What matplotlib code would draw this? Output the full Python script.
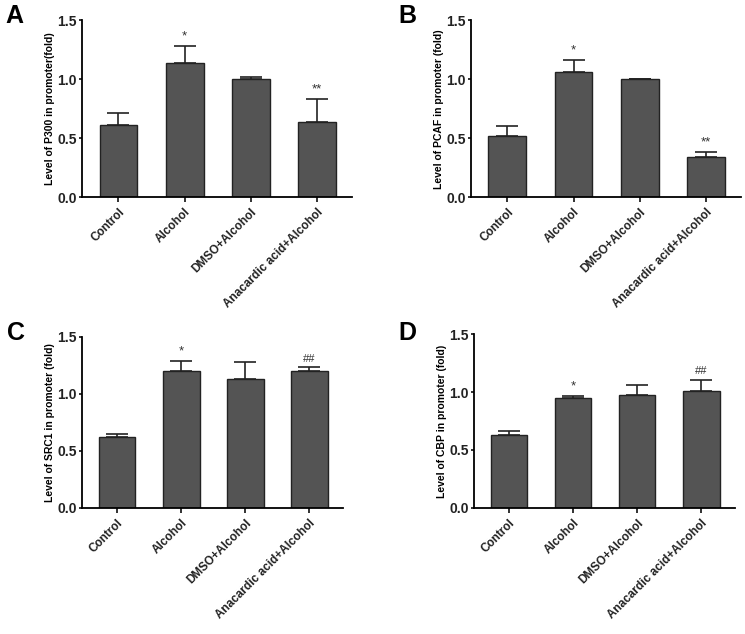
import numpy as np
import matplotlib
matplotlib.use("Agg")
import matplotlib.pyplot as plt

plt.rcParams['font.family'] = ['Liberation Sans', 'DejaVu Sans']
plt.rcParams['font.weight'] = 'bold'

groups = ["Control", "Alcohol", "DMSO+Alcohol", "Anacardic acid+Alcohol"]

# mean values and upper error (SD) for each panel
p300_mean = [0.61, 1.14, 1.00, 0.64]
p300_err = [0.10, 0.14, 0.02, 0.19]
pcaf_mean = [0.52, 1.06, 1.00, 0.34]
pcaf_err = [0.08, 0.10, 0.005, 0.045]
src1_mean = [0.62, 1.20, 1.13, 1.20]
src1_err = [0.03, 0.09, 0.15, 0.03]
cbp_mean = [0.63, 0.95, 0.97, 1.01]
cbp_err = [0.035, 0.015, 0.09, 0.095]

p300_marks = ["", "*", "", "**"]
pcaf_marks = ["", "*", "", "**"]
src1_marks = ["", "*", "", "##"]
cbp_marks = ["", "*", "", "##"]

ylabels = ["Level of P300 in promoter(fold)",
           "Level of PCAF in promoter (fold)",
           "Level of SRC1 in promoter (fold)",
           "Level of CBP in promoter (fold)"]
letters = ["A", "B", "C", "D"]

fig = plt.figure(figsize=(7.45, 6.34), dpi=100)

# axes rectangles [left, bottom, width, height]
rects = [[0.110, 0.689, 0.362, 0.279],
         [0.632, 0.689, 0.362, 0.279],
         [0.110, 0.199, 0.350, 0.270],
         [0.636, 0.199, 0.350, 0.274]]
# panel letter positions (figure fraction, top-left)
letter_pos = [(0.007, 0.993), (0.535, 0.993), (0.009, 0.494), (0.535, 0.494)]

data = [(p300_mean, p300_err, p300_marks),
        (pcaf_mean, pcaf_err, pcaf_marks),
        (src1_mean, src1_err, src1_marks),
        (cbp_mean, cbp_err, cbp_marks)]

bar_color = "#545454"

for i in range(4):
    ax = fig.add_axes(rects[i])
    mean, err, marks = data[i]
    x = np.arange(len(groups))
    ax.bar(x, mean, width=0.57, color=bar_color, edgecolor="#222222", linewidth=1.0, zorder=2)
    ax.errorbar(x, mean, yerr=[np.zeros(len(err)), err], fmt="none",
                ecolor="#222222", elinewidth=1.2, capsize=8, capthick=1.2, zorder=1)
    for j in range(len(groups)):
        if marks[j]:
            ax.text(x[j], mean[j] + err[j] + 0.03, marks[j], ha="center", va="bottom",
                    fontsize=8 if "#" in marks[j] else 9.5, fontweight="normal", color="#333333")
    ax.set_xlim(-0.55, 3.52)
    ax.set_ylim(0, 1.5)
    ax.set_yticks([0.0, 0.5, 1.0, 1.5])
    ax.set_yticklabels(["0.0", "0.5", "1.0", "1.5"], fontsize=10, fontweight="bold")
    ax.set_xticks(x)
    ax.set_xticklabels(groups, rotation=45, ha="right", rotation_mode="anchor",
                       fontsize=8.5, fontweight="bold")
    ax.spines["top"].set_visible(False)
    ax.spines["right"].set_visible(False)
    ax.spines["left"].set_linewidth(1.3)
    ax.spines["bottom"].set_linewidth(1.3)
    ax.tick_params(axis="both", direction="out", width=1.3, length=3.5, colors="#222222")
    ax.tick_params(axis="y", length=2.5, pad=1)
    ax.tick_params(axis="x", pad=3)
    ax.set_ylabel(ylabels[i], fontsize=7.5, fontweight="bold", labelpad=2)
    fig.text(letter_pos[i][0], letter_pos[i][1], letters[i], fontsize=18, fontweight="bold",
             va="top", ha="left")

plt.savefig("out.png", dpi=100)
